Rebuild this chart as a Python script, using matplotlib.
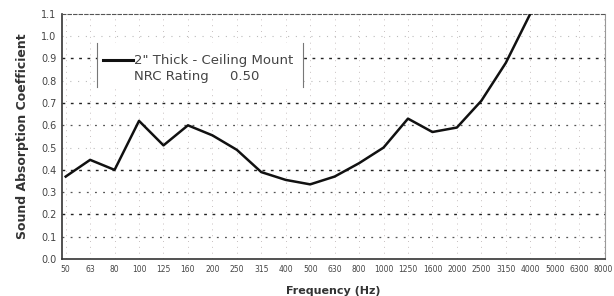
# Sound absorption curve, 2" thick ceiling mount panel
import matplotlib.pyplot as plt
from matplotlib.patches import Rectangle

# data
freqs = ['50', '63', '80', '100', '125', '160', '200', '250', '315', '400', '500', '630',
         '800', '1000', '1250', '1600', '2000', '2500', '3150', '4000', '5000', '6300', '8000']
curve_freqs = ['50', '63', '80', '100', '125', '160', '200', '250', '315', '400', '500',
               '630', '800', '1000', '1250', '1600', '2000', '2500', '3150', '4000']
curve_vals = [0.37, 0.445, 0.40, 0.62, 0.51, 0.60, 0.555, 0.49, 0.39, 0.355, 0.335,
              0.37, 0.43, 0.50, 0.63, 0.57, 0.59, 0.71, 0.88, 1.10]
y_ticks = [0.0, 0.1, 0.2, 0.3, 0.4, 0.5, 0.6, 0.7, 0.8, 0.9, 1.0, 1.1]
dark_grid = [0.2, 0.4, 0.7, 0.9]
mid_grid = [0.1, 0.3, 0.6]
faint_grid = [0.5, 0.8, 1.0]

fig = plt.figure(figsize=(6.14, 2.96), dpi=100)
ax = fig.add_axes([0.101, 0.125, 0.884, 0.828])

pos = {f: i for i, f in enumerate(freqs)}
xs = [pos[f] for f in curve_freqs]

# grid
for y in dark_grid:
    ax.axhline(y, color='#222222', lw=1.0, ls=(0, (2, 4)), zorder=1)
for y in mid_grid:
    ax.axhline(y, color='#555555', lw=0.9, ls=(0, (1.5, 5)), zorder=1)
for y in faint_grid:
    ax.axhline(y, color='#bbbbbb', lw=0.8, ls=(0, (1, 6)), zorder=1)
for i in range(len(freqs)):
    ax.axvline(i, color='#c8c0c0', lw=0.7, ls=(0, (1, 5)), zorder=1)

ax.plot(xs, curve_vals, color='#111111', lw=1.8, zorder=3, clip_on=True)

ax.set_xlim(-0.15, len(freqs) - 0.95)
ax.set_ylim(0, 1.1)
ax.set_xticks(range(len(freqs)))
ax.set_xticklabels(freqs, fontsize=5.5, color='#444444')
ax.set_yticks(y_ticks)
ax.set_yticklabels([f'{v:.1f}' for v in y_ticks], fontsize=7, color='#444444')
ax.tick_params(length=0, pad=4)

for s in ['left', 'bottom']:
    ax.spines[s].set_color('#333333')
    ax.spines[s].set_linewidth(1.2)
ax.spines['top'].set_color('#555555')
ax.spines['top'].set_linestyle((0, (3, 2)))
ax.spines['right'].set_color('#999999')

ax.set_xlabel('Frequency (Hz)', fontsize=8, fontweight='bold', color='#333333', labelpad=9)
ax.set_ylabel('Sound Absorption Coefficient', fontsize=9, fontweight='bold', color='#333333',
              labelpad=9)

# legend box: white fill, only side bars drawn
ax.add_patch(Rectangle((0.064, 0.70), 0.38, 0.18, transform=ax.transAxes,
                       facecolor='white', edgecolor='none', zorder=2))
ax.plot([0.064, 0.064], [0.70, 0.88], transform=ax.transAxes, color='#777777', lw=0.8, zorder=4)
ax.plot([0.444, 0.444], [0.70, 0.88], transform=ax.transAxes, color='#777777', lw=0.8, zorder=4)
ax.plot([0.076, 0.131], [0.81, 0.81], transform=ax.transAxes, color='#111111', lw=2.2, zorder=4)
ax.text(0.133, 0.81, '2" Thick - Ceiling Mount', transform=ax.transAxes, fontsize=9.5,
        color='#444444', va='center', zorder=4)
ax.text(0.133, 0.745, 'NRC Rating     0.50', transform=ax.transAxes, fontsize=9.5,
        color='#444444', va='center', zorder=4)

fig.savefig('out.png', dpi=100)
